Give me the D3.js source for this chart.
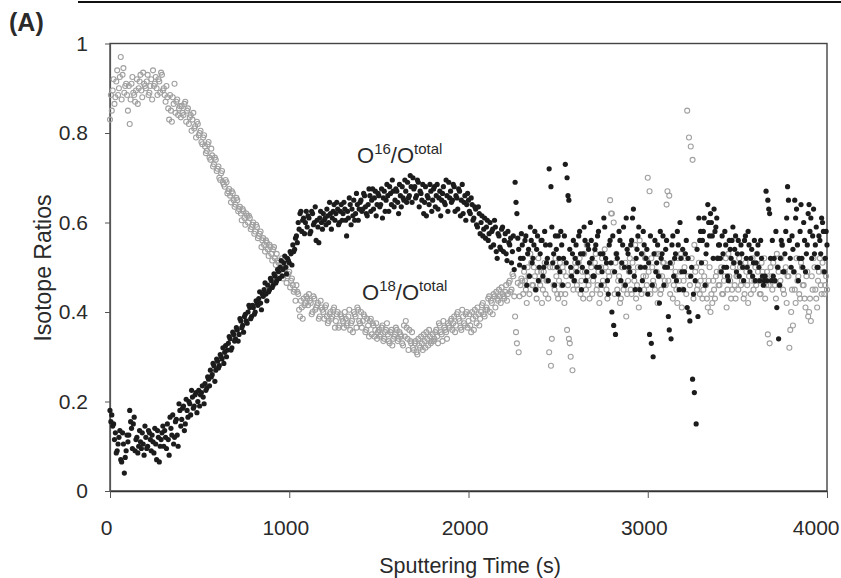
<!DOCTYPE html>
<html>
<head>
<meta charset="utf-8">
<script src="https://cdn.jsdelivr.net/npm/d3@7"></script>
<style>
body { margin: 0; background: #fff; }
svg text { font-family: "Liberation Sans", Arial, sans-serif; }
</style>
</head>
<body>
<svg id="chart" width="841" height="578"></svg>
<script>
// sputtering time (s), readings on the 10 s grid
const sputterTime = [
  0,10,20,30,40,50,60,70,80,90, 100,110,120,130,140,150,160,170,180,190,
  200,210,220,230,240,250,260,270,280,290, 300,310,320,330,340,350,360,370,380,390,
  400,410,420,430,440,450,460,470,480,490, 500,510,520,530,540,550,560,570,580,590,
  600,610,620,630,640,650,660,670,680,690, 700,710,720,730,740,750,760,770,780,790,
  800,810,820,830,840,850,860,870,880,890, 900,910,920,930,940,950,960,970,980,990,
  1000,1010,1020,1030,1040,1050,1060,1070,1080,1090, 1100,1110,1120,1130,1140,1150,1160,1170,1180,1190,
  1200,1210,1220,1230,1240,1250,1260,1270,1280,1290, 1300,1310,1320,1330,1340,1350,1360,1370,1380,1390,
  1400,1410,1420,1430,1440,1450,1460,1470,1480,1490, 1500,1510,1520,1530,1540,1550,1560,1570,1580,1590,
  1600,1610,1620,1630,1640,1650,1660,1670,1680,1690, 1700,1710,1720,1730,1740,1750,1760,1770,1780,1790,
  1800,1810,1820,1830,1840,1850,1860,1870,1880,1890, 1900,1910,1920,1930,1940,1950,1960,1970,1980,1990,
  2000,2010,2020,2030,2040,2050,2060,2070,2080,2090, 2100,2110,2120,2130,2140,2150,2160,2170,2180,2190,
  2200,2210,2220,2230,2240,2250,2260,2270,2280,2290, 2300,2310,2320,2330,2340,2350,2360,2370,2380,2390,
  2400,2410,2420,2430,2440,2450,2460,2470,2480,2490, 2500,2510,2520,2530,2540,2550,2560,2570,2580,2590,
  2600,2610,2620,2630,2640,2650,2660,2670,2680,2690, 2700,2710,2720,2730,2740,2750,2760,2770,2780,2790,
  2800,2810,2820,2830,2840,2850,2860,2870,2880,2890, 2900,2910,2920,2930,2940,2950,2960,2970,2980,2990,
  3000,3010,3020,3030,3040,3050,3060,3070,3080,3090, 3100,3110,3120,3130,3140,3150,3160,3170,3180,3190,
  3200,3210,3220,3230,3240,3250,3260,3270,3280,3290, 3300,3310,3320,3330,3340,3350,3360,3370,3380,3390,
  3400,3410,3420,3430,3440,3450,3460,3470,3480,3490, 3500,3510,3520,3530,3540,3550,3560,3570,3580,3590,
  3600,3610,3620,3630,3640,3650,3660,3670,3680,3690, 3700,3710,3720,3730,3740,3750,3760,3770,3780,3790,
  3800,3810,3820,3830,3840,3850,3860,3870,3880,3890, 3900,3910,3920,3930,3940,3950,3960,3970,3980,3990,
  4000
];

// O16/Ototal (black dots) on the 10 s grid
const o16Ratio = [
  0.18,0.17,0.15,0.13,0.09,0.12,0.07,0.13,0.04,0.09, 0.11,0.18,0.14,0.15,0.09,0.12,0.10,0.11,0.13,0.08,
  0.12,0.10,0.13,0.09,0.11,0.14,0.07,0.12,0.10,0.13, 0.10,0.12,0.15,0.08,0.14,0.17,0.12,0.16,0.10,0.18,
  0.16,0.19,0.15,0.18,0.20,0.17,0.21,0.19,0.22,0.20, 0.19,0.22,0.21,0.24,0.23,0.25,0.27,0.26,0.28,0.27,
  0.29,0.28,0.30,0.32,0.31,0.30,0.33,0.34,0.32,0.35, 0.34,0.36,0.35,0.38,0.37,0.39,0.38,0.40,0.41,0.39,
  0.41,0.40,0.42,0.43,0.42,0.44,0.45,0.44,0.46,0.45, 0.47,0.46,0.48,0.47,0.49,0.50,0.48,0.51,0.50,0.52,
  0.51,0.53,0.55,0.54,0.57,0.60,0.62,0.58,0.61,0.60, 0.59,0.61,0.58,0.62,0.60,0.56,0.59,0.61,0.60,0.62,
  0.61,0.63,0.60,0.62,0.61,0.64,0.62,0.63,0.60,0.64, 0.62,0.63,0.57,0.61,0.64,0.63,0.65,0.62,0.64,0.63,
  0.65,0.63,0.66,0.62,0.64,0.66,0.65,0.63,0.67,0.64, 0.66,0.64,0.61,0.67,0.65,0.66,0.68,0.64,0.67,0.65,
  0.67,0.62,0.66,0.68,0.65,0.67,0.69,0.66,0.68,0.70, 0.68,0.66,0.69,0.67,0.65,0.62,0.68,0.66,0.64,0.67,
  0.65,0.68,0.66,0.63,0.67,0.65,0.68,0.64,0.66,0.69, 0.67,0.65,0.68,0.66,0.63,0.67,0.65,0.62,0.66,0.64,
  0.65,0.62,0.64,0.61,0.63,0.59,0.62,0.60,0.57,0.61, 0.59,0.56,0.60,0.58,0.55,0.59,0.52,0.57,0.54,0.59,
  0.56,0.53,0.58,0.55,0.51,0.57,0.69,0.62,0.54,0.52, 0.55,0.50,0.57,0.53,0.48,0.56,0.52,0.58,0.54,0.47,
  0.53,0.56,0.50,0.55,0.52,0.72,0.68,0.51,0.46,0.54, 0.57,0.49,0.55,0.52,0.73,0.70,0.65,0.50,0.53,0.47,
  0.55,0.51,0.58,0.45,0.53,0.56,0.49,0.54,0.60,0.52, 0.48,0.55,0.57,0.50,0.46,0.53,0.59,0.51,0.44,0.56,
  0.40,0.37,0.35,0.52,0.58,0.47,0.55,0.50,0.61,0.53, 0.49,0.56,0.63,0.45,0.54,0.59,0.50,0.47,0.55,0.52,
  0.44,0.35,0.33,0.30,0.56,0.51,0.48,0.58,0.53,0.46, 0.54,0.50,0.36,0.34,0.57,0.52,0.47,0.55,0.60,0.49,
  0.45,0.53,0.41,0.40,0.48,0.25,0.22,0.15,0.39,0.56, 0.51,0.58,0.46,0.55,0.60,0.62,0.57,0.63,0.59,0.52,
  0.55,0.49,0.53,0.58,0.50,0.47,0.54,0.56,0.51,0.57, 0.53,0.48,0.55,0.50,0.56,0.52,0.58,0.49,0.54,0.51,
  0.47,0.53,0.50,0.56,0.48,0.47,0.67,0.65,0.62,0.47, 0.48,0.47,0.41,0.34,0.52,0.55,0.49,0.58,0.68,0.56,
  0.50,0.54,0.65,0.63,0.47,0.58,0.52,0.60,0.49,0.55, 0.64,0.61,0.57,0.53,0.59,0.50,0.56,0.61,0.58,0.52,
  0.55
];

// O18/Ototal (grey open circles) on the 10 s grid
const o18Ratio = [
  0.83,0.85,0.92,0.88,0.94,0.90,0.97,0.93,0.89,0.91, 0.85,0.82,0.91,0.89,0.87,0.92,0.90,0.93,0.88,0.91,
  0.90,0.93,0.89,0.92,0.94,0.91,0.90,0.92,0.89,0.93, 0.90,0.87,0.88,0.83,0.85,0.88,0.91,0.87,0.84,0.86,
  0.86,0.84,0.87,0.85,0.82,0.84,0.83,0.81,0.79,0.82, 0.80,0.78,0.79,0.77,0.76,0.78,0.74,0.75,0.73,0.74,
  0.72,0.70,0.71,0.69,0.68,0.69,0.67,0.66,0.67,0.65, 0.64,0.65,0.63,0.62,0.63,0.61,0.62,0.60,0.61,0.59,
  0.60,0.58,0.59,0.57,0.58,0.56,0.55,0.56,0.54,0.55, 0.53,0.54,0.52,0.53,0.51,0.50,0.52,0.49,0.50,0.48,
  0.49,0.47,0.46,0.45,0.46,0.44,0.39,0.41,0.43,0.42, 0.43,0.44,0.42,0.40,0.43,0.41,0.42,0.39,0.41,0.40,
  0.41,0.39,0.38,0.40,0.39,0.41,0.38,0.40,0.37,0.39, 0.38,0.40,0.37,0.39,0.36,0.38,0.40,0.39,0.41,0.38,
  0.40,0.38,0.39,0.36,0.37,0.38,0.35,0.37,0.36,0.34, 0.36,0.35,0.37,0.34,0.36,0.35,0.33,0.36,0.34,0.35,
  0.36,0.34,0.35,0.33,0.37,0.38,0.34,0.36,0.33,0.32, 0.33,0.31,0.34,0.32,0.33,0.35,0.32,0.34,0.36,0.33,
  0.35,0.34,0.36,0.33,0.37,0.35,0.38,0.36,0.34,0.37, 0.38,0.36,0.39,0.37,0.40,0.38,0.36,0.39,0.37,0.40,
  0.38,0.37,0.40,0.36,0.39,0.41,0.37,0.40,0.42,0.39, 0.41,0.43,0.40,0.42,0.44,0.41,0.43,0.45,0.42,0.44,
  0.43,0.46,0.44,0.47,0.45,0.48,0.39,0.33,0.31,0.46, 0.47,0.49,0.45,0.50,0.44,0.51,0.46,0.48,0.43,0.52,
  0.46,0.42,0.49,0.44,0.47,0.31,0.28,0.50,0.45,0.48, 0.43,0.51,0.46,0.49,0.44,0.36,0.34,0.30,0.27,0.47,
  0.50,0.45,0.52,0.47,0.43,0.49,0.55,0.46,0.51,0.44, 0.48,0.53,0.46,0.42,0.50,0.47,0.54,0.45,0.49,0.65,
  0.62,0.60,0.51,0.45,0.48,0.43,0.50,0.46,0.39,0.47, 0.52,0.44,0.49,0.55,0.46,0.41,0.50,0.53,0.45,0.48,
  0.70,0.67,0.52,0.47,0.45,0.49,0.53,0.44,0.48,0.51, 0.46,0.67,0.66,0.50,0.43,0.48,0.45,0.52,0.49,0.41,
  0.47,0.52,0.85,0.79,0.77,0.74,0.55,0.50,0.46,0.44, 0.49,0.45,0.51,0.43,0.47,0.40,0.42,0.45,0.48,0.52,
  0.46,0.50,0.44,0.48,0.41,0.53,0.47,0.45,0.51,0.43, 0.48,0.52,0.46,0.50,0.44,0.49,0.42,0.51,0.47,0.45,
  0.50,0.53,0.47,0.44,0.49,0.52,0.46,0.35,0.33,0.48, 0.51,0.46,0.53,0.49,0.47,0.55,0.44,0.50,0.48,0.32,
  0.40,0.37,0.45,0.52,0.48,0.43,0.50,0.46,0.41,0.49, 0.40,0.38,0.45,0.50,0.43,0.47,0.52,0.44,0.49,0.46,
  0.45
];

// readings that fall between the 10 s grid
const sputterTimeMid = [
  5,15,25,35,45,55,65,75,85,95, 105,115,125,135,145,155,165,175,185,195,
  205,215,225,235,245,255,265,275,285,295, 305,315,325,335,345,355,365,375,385,395,
  405,415,425,435,445,455,465,475,485,495, 505,515,525,535,545,555,565,575,585,595,
  605,615,625,635,645,655,665,675,685,695, 705,715,725,735,745,755,765,775,785,795,
  805,815,825,835,845,855,865,875,885,895, 905,915,925,935,945,955,965,975,985,995,
  1005,1015,1025,1035,1045,1055,1065,1075,1085,1095, 1105,1115,1125,1135,1145,1155,1165,1175,1185,1195,
  1205,1215,1225,1235,1245,1255,1265,1275,1285,1295, 1305,1315,1325,1335,1345,1355,1365,1375,1385,1395,
  1405,1415,1425,1435,1445,1455,1465,1475,1485,1495, 1505,1515,1525,1535,1545,1555,1565,1575,1585,1595,
  1605,1615,1625,1635,1645,1655,1665,1675,1685,1695, 1705,1715,1725,1735,1745,1755,1765,1775,1785,1795,
  1805,1815,1825,1835,1845,1855,1865,1875,1885,1895, 1905,1915,1925,1935,1945,1955,1965,1975,1985,1995,
  2005,2015,2025,2035,2045,2055,2065,2075,2085,2095, 2105,2115,2125,2135,2145,2155,2165,2175,2185,2195,
  2205,2215,2225,2235,2245,2255,2265,2275,2285,2295, 2305,2315,2325,2335,2345,2355,2365,2375,2385,2395,
  2405,2415,2425,2435,2445,2455,2465,2475,2485,2495, 2505,2515,2525,2535,2545,2555,2565,2575,2585,2595,
  2605,2615,2625,2635,2645,2655,2665,2675,2685,2695, 2705,2715,2725,2735,2745,2755,2765,2775,2785,2795,
  2805,2815,2825,2835,2845,2855,2865,2875,2885,2895, 2905,2915,2925,2935,2945,2955,2965,2975,2985,2995,
  3005,3015,3025,3035,3045,3055,3065,3075,3085,3095, 3105,3115,3125,3135,3145,3155,3165,3175,3185,3195,
  3205,3215,3225,3235,3245,3255,3265,3275,3285,3295, 3305,3315,3325,3335,3345,3355,3365,3375,3385,3395,
  3405,3415,3425,3435,3445,3455,3465,3475,3485,3495, 3505,3515,3525,3535,3545,3555,3565,3575,3585,3595,
  3605,3615,3625,3635,3645,3655,3665,3675,3685,3695, 3705,3715,3725,3735,3745,3755,3765,3775,3785,3795,
  3805,3815,3825,3835,3845,3855,3865,3875,3885,3895, 3905,3915,3925,3935,3945,3955,3965,3975,3985,3995
];

const o16RatioMid = [
  0.155,0.145,0.115,0.085,0.105,0.135,0.065,0.105,0.075,0.125, 0.125,0.155,0.095,0.165,0.115,0.085,0.135,0.095,0.105,0.145,
  0.095,0.135,0.115,0.125,0.085,0.105,0.135,0.065,0.115,0.145, 0.135,0.095,0.115,0.165,0.125,0.105,0.155,0.125,0.195,0.145,
  0.185,0.135,0.205,0.165,0.195,0.225,0.185,0.215,0.175,0.225, 0.215,0.235,0.195,0.225,0.255,0.235,0.255,0.285,0.245,0.295,
  0.275,0.305,0.295,0.285,0.325,0.315,0.345,0.315,0.355,0.335, 0.365,0.335,0.385,0.365,0.355,0.395,0.375,0.415,0.385,0.415,
  0.395,0.425,0.415,0.445,0.405,0.435,0.465,0.425,0.445,0.475, 0.455,0.485,0.465,0.495,0.475,0.515,0.495,0.525,0.485,0.515,
  0.535,0.505,0.535,0.565,0.555,0.585,0.625,0.605,0.575,0.625, 0.615,0.575,0.625,0.595,0.635,0.605,0.555,0.625,0.585,0.605,
  0.595,0.615,0.645,0.585,0.625,0.605,0.645,0.595,0.625,0.605, 0.645,0.605,0.625,0.655,0.595,0.615,0.605,0.665,0.605,0.645,
  0.625,0.665,0.635,0.615,0.675,0.625,0.675,0.655,0.615,0.665, 0.635,0.675,0.655,0.625,0.685,0.625,0.665,0.695,0.635,0.675,
  0.645,0.685,0.635,0.655,0.695,0.645,0.655,0.705,0.645,0.675, 0.655,0.695,0.635,0.665,0.685,0.645,0.615,0.655,0.685,0.625,
  0.675,0.635,0.685,0.655,0.615,0.665,0.645,0.695,0.625,0.655, 0.645,0.685,0.625,0.655,0.675,0.615,0.685,0.645,0.605,0.665,
  0.625,0.655,0.605,0.635,0.595,0.635,0.575,0.615,0.585,0.565, 0.605,0.575,0.545,0.585,0.605,0.535,0.575,0.545,0.585,0.535,
  0.575,0.515,0.555,0.565,0.535,0.495,0.645,0.565,0.505,0.575, 0.52,0.56,0.46,0.54,0.59,0.51,0.55,0.45,0.57,0.50,
  0.56,0.48,0.58,0.51,0.47,0.55,0.59,0.53,0.57,0.50, 0.52,0.58,0.46,0.57,0.51,0.66,0.54,0.48,0.56,0.52,
  0.49,0.57,0.53,0.50,0.59,0.47,0.55,0.51,0.56,0.48, 0.54,0.50,0.58,0.53,0.49,0.61,0.52,0.47,0.55,0.51,
  0.57,0.49,0.53,0.44,0.56,0.51,0.59,0.46,0.54,0.50, 0.55,0.61,0.48,0.52,0.57,0.45,0.53,0.58,0.50,0.54,
  0.51,0.57,0.46,0.53,0.49,0.55,0.42,0.52,0.57,0.50, 0.56,0.39,0.51,0.55,0.48,0.53,0.58,0.45,0.52,0.54,
  0.49,0.56,0.52,0.38,0.50,0.44,0.47,0.54,0.61,0.58, 0.56,0.61,0.53,0.64,0.57,0.60,0.52,0.58,0.61,0.55,
  0.52,0.57,0.50,0.55,0.48,0.56,0.52,0.59,0.54,0.49, 0.56,0.51,0.53,0.47,0.57,0.50,0.55,0.52,0.48,0.56,
  0.51,0.55,0.47,0.52,0.46,0.48,0.47,0.63,0.52,0.56, 0.52,0.58,0.50,0.46,0.56,0.49,0.53,0.61,0.65,0.52,
  0.57,0.49,0.61,0.55,0.52,0.64,0.50,0.56,0.53,0.62, 0.58,0.52,0.63,0.55,0.50,0.57,0.53,0.60,0.49,0.58
];

const o18RatioMid = [
  0.885,0.895,0.865,0.915,0.885,0.925,0.875,0.945,0.905,0.885, 0.905,0.875,0.925,0.885,0.895,0.865,0.915,0.895,0.935,0.905,
  0.915,0.885,0.905,0.875,0.905,0.925,0.885,0.915,0.935,0.895, 0.885,0.905,0.855,0.885,0.825,0.865,0.845,0.875,0.855,0.835,
  0.845,0.865,0.825,0.855,0.835,0.805,0.845,0.815,0.825,0.795, 0.805,0.775,0.795,0.755,0.775,0.745,0.765,0.725,0.745,0.715,
  0.725,0.695,0.715,0.685,0.695,0.665,0.675,0.645,0.665,0.635, 0.655,0.625,0.635,0.605,0.625,0.595,0.615,0.615,0.585,0.595,
  0.575,0.595,0.565,0.575,0.545,0.565,0.535,0.555,0.525,0.545, 0.515,0.545,0.505,0.515,0.485,0.505,0.475,0.495,0.465,0.485,
  0.455,0.475,0.445,0.425,0.445,0.405,0.425,0.385,0.415,0.435, 0.415,0.425,0.395,0.435,0.405,0.415,0.385,0.425,0.405,0.385,
  0.415,0.375,0.395,0.385,0.405,0.365,0.395,0.365,0.395,0.385, 0.365,0.385,0.375,0.405,0.375,0.355,0.395,0.365,0.405,0.375,
  0.365,0.395,0.355,0.385,0.345,0.385,0.375,0.345,0.375,0.355, 0.345,0.365,0.335,0.355,0.375,0.335,0.355,0.325,0.345,0.365,
  0.335,0.355,0.345,0.325,0.345,0.365,0.315,0.335,0.355,0.315, 0.335,0.305,0.325,0.345,0.315,0.335,0.355,0.325,0.345,0.335,
  0.335,0.355,0.345,0.375,0.355,0.335,0.365,0.355,0.375,0.365, 0.385,0.375,0.355,0.395,0.385,0.365,0.405,0.375,0.395,0.365,
  0.395,0.355,0.385,0.405,0.375,0.395,0.385,0.415,0.395,0.405, 0.405,0.435,0.425,0.395,0.435,0.445,0.425,0.435,0.455,0.435,
  0.445,0.425,0.465,0.445,0.485,0.435,0.355,0.465,0.435,0.475, 0.44,0.47,0.42,0.48,0.53,0.46,0.50,0.45,0.49,0.47,
  0.49,0.45,0.51,0.47,0.43,0.50,0.34,0.46,0.52,0.44, 0.47,0.44,0.50,0.42,0.48,0.46,0.33,0.49,0.45,0.51,
  0.46,0.51,0.44,0.49,0.53,0.45,0.48,0.43,0.50,0.47, 0.51,0.45,0.49,0.44,0.52,0.46,0.50,0.43,0.48,0.62,
  0.49,0.44,0.53,0.47,0.42,0.50,0.45,0.51,0.44,0.49, 0.45,0.51,0.47,0.43,0.50,0.56,0.44,0.48,0.52,0.46,
  0.49,0.44,0.50,0.46,0.53,0.42,0.48,0.45,0.51,0.47, 0.64,0.47,0.44,0.51,0.46,0.49,0.42,0.47,0.53,0.45,
  0.50,0.44,0.48,0.46,0.52,0.43,0.49,0.45,0.51,0.47, 0.43,0.48,0.46,0.41,0.50,0.44,0.47,0.43,0.49,0.46,
  0.49,0.44,0.47,0.52,0.45,0.48,0.43,0.50,0.46,0.48, 0.45,0.50,0.47,0.43,0.51,0.46,0.48,0.44,0.52,0.47,
  0.46,0.49,0.44,0.51,0.47,0.43,0.49,0.46,0.50,0.45, 0.47,0.43,0.50,0.46,0.52,0.45,0.49,0.42,0.48,0.36,
  0.45,0.49,0.42,0.47,0.44,0.51,0.46,0.43,0.48,0.39, 0.43,0.48,0.52,0.45,0.41,0.49,0.46,0.51,0.44,0.48
];

const xTickValues = [0, 1000, 2000, 3000, 4000];
const yTickValues = [0, 0.2, 0.4, 0.6, 0.8, 1];
const yTickLabels = ["0", "0.2", "0.4", "0.6", "0.8", "1"];

const svg = d3.select("#chart");
const inkColor = "#2a2a2a";

const x = d3.scaleLinear().domain([0, 4000]).range([110, 827]);
const y = d3.scaleLinear().domain([0, 1]).range([491, 43.5]);

// rule across the top of the page
svg.append("line")
    .attr("x1", 78).attr("x2", 841)
    .attr("y1", 2).attr("y2", 2)
    .attr("stroke", "#111").attr("stroke-width", 2);

svg.append("text")
    .attr("x", 9).attr("y", 31)
    .attr("font-size", 25).attr("font-weight", "bold")
    .attr("fill", inkColor)
    .text("(A)");

// plot frame
svg.append("rect")
    .attr("x", x(0)).attr("y", y(1))
    .attr("width", x(4000) - x(0)).attr("height", y(0) - y(1))
    .attr("fill", "none")
    .attr("stroke", "#444").attr("stroke-width", 1.4);

// axes
let xAxis = d3.axisBottom(x)
    .tickValues(xTickValues)
    .tickSize(7).tickSizeOuter(0)
    .tickPadding(22)
    .tickFormat(d3.format("d"));

svg.append("g")
    .attr("transform", `translate(0,${y(0)})`)
    .call(xAxis)
    .call(g => g.select(".domain").attr("stroke", "#333").attr("stroke-width", 1.6))
    .call(g => g.selectAll(".tick line").attr("stroke", "#555"))
    .call(g => g.selectAll("text").attr("font-size", 21).attr("fill", inkColor)
        .attr("font-family", "Liberation Sans, Arial, sans-serif")
        .attr("dx", -4))
    .call(g => g.selectAll(".tick:last-of-type text")
        .attr("text-anchor", "end").attr("dx", 12));

let yAxis = d3.axisLeft(y)
    .tickValues(yTickValues)
    .tickSize(5).tickSizeOuter(0)
    .tickPadding(17)
    .tickFormat((d, i) => yTickLabels[i]);

svg.append("g")
    .attr("transform", `translate(${x(0)},0)`)
    .call(yAxis)
    .call(g => g.select(".domain").attr("stroke", "#555").attr("stroke-width", 1.2))
    .call(g => g.selectAll(".tick line").attr("stroke", "#555"))
    .call(g => g.selectAll("text").attr("font-size", 21).attr("fill", inkColor)
        .attr("font-family", "Liberation Sans, Arial, sans-serif"));

// axis titles
svg.append("text")
    .attr("x", 470).attr("y", 573)
    .attr("text-anchor", "middle")
    .attr("font-size", 21.5).attr("fill", inkColor)
    .text("Sputtering Time (s)");

svg.append("text")
    .attr("transform", "translate(51,268) rotate(-90)")
    .attr("text-anchor", "middle")
    .attr("font-size", 23).attr("fill", inkColor)
    .text("Isotope Ratios");

// points: both reading grids together
let points = sputterTime.map((t, i) => ({ t: t, o16: o16Ratio[i], o18: o18Ratio[i] }))
    .concat(sputterTimeMid.map((t, i) => ({ t: t, o16: o16RatioMid[i], o18: o18RatioMid[i] })));

svg.append("g").attr("class", "o18")
    .selectAll("circle")
    .data(points)
    .join("circle")
    .attr("cx", d => x(d.t))
    .attr("cy", d => y(d.o18))
    .attr("r", 2.5)
    .attr("fill", "none")
    .attr("stroke", "#a0a0a0")
    .attr("stroke-width", 1.1);

svg.append("g").attr("class", "o16")
    .selectAll("circle")
    .data(points)
    .join("circle")
    .attr("cx", d => x(d.t))
    .attr("cy", d => y(d.o16))
    .attr("r", 2.6)
    .attr("fill", "#1c1c1c");

// series labels with superscripts
function seriesLabel(px, py, mass) {
    let t = svg.append("text")
        .attr("x", px).attr("y", py)
        .attr("font-size", 22).attr("fill", inkColor);
    t.append("tspan").text("O");
    t.append("tspan").attr("dy", -9).attr("font-size", 15).text(mass);
    t.append("tspan").attr("dy", 9).text("/O");
    t.append("tspan").attr("dy", -9).attr("font-size", 15).text("total");
}
seriesLabel(357, 163, "16");
seriesLabel(362, 300, "18");
</script>
</body>
</html>
